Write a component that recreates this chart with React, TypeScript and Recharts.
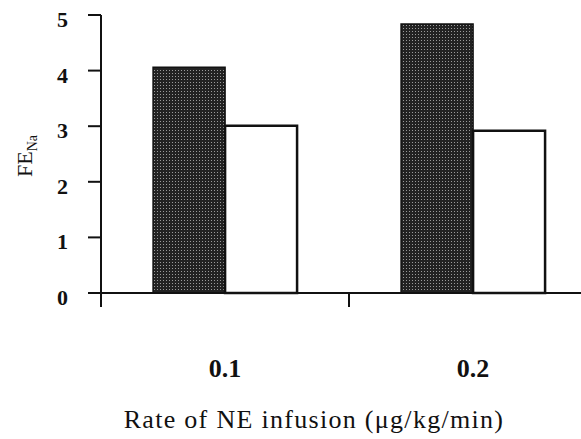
import { BarChart, Bar, XAxis, YAxis, Label } from "recharts";

const rates = ["0.1", "0.2"];
const darkValues = [4.06, 4.84];
const whiteValues = [3.01, 2.92];
const yTicks = [0, 1, 2, 3, 4, 5];

const data = rates.map((r, i) => ({ rate: r, dark: darkValues[i], white: whiteValues[i] }));

const SERIF = "'Liberation Serif', 'Times New Roman', serif";

function XTick(props: any) {
  const { x, y, payload } = props;
  const left = x - payload.offset;
  return (
    <g>
      <line x1={left} y1={y} x2={left} y2={y + 14} stroke="#111" strokeWidth={2} />
      <text x={x} y={y + 84} textAnchor="middle" fontFamily={SERIF} fontWeight="bold" fontSize={26} fill="#111">
        {payload.value}
      </text>
    </g>
  );
}

function YTick(props: any) {
  const { x, y, payload } = props;
  return (
    <text x={x} y={y + 12} textAnchor="end" fontFamily={SERIF} fontWeight="bold" fontSize={22} fill="#111">
      {payload.value}
    </text>
  );
}

export default function App() {
  return (
    <div style={{ position: "absolute", left: 0, top: 0, width: 581, height: 439, overflow: "hidden", background: "#fff" }}>
      <BarChart
        width={600}
        height={439}
        data={data}
        margin={{ top: 15, right: 3, left: 0, bottom: 0 }}
        barCategoryGap="21%"
        barGap={0}
      >
        <defs>
          <pattern id="stipple" width="3" height="3" patternUnits="userSpaceOnUse">
            <rect width="3" height="3" fill="#222" />
            <rect x="1" y="1" width="1" height="1" fill="#9a9a9a" />
          </pattern>
        </defs>
        <XAxis
          dataKey="rate"
          height={146}
          tickSize={0}
          tickMargin={0}
          tickLine={false}
          axisLine={{ stroke: "#111", strokeWidth: 2 }}
          tick={<XTick />}
        >
          <Label
            content={(p: any) => {
              const vb = p.viewBox;
              return (
                <text
                  x={vb.x + vb.width / 2 - 35}
                  y={vb.y + 135}
                  textAnchor="middle"
                  fontFamily={SERIF}
                  fontSize={26}
                  letterSpacing={1.3}
                  fill="#111"
                >
                  Rate of NE infusion (μg/kg/min)
                </text>
              );
            }}
          />
        </XAxis>
        <YAxis
          width={101}
          domain={[0, 5]}
          ticks={yTicks}
          interval={0}
          tickSize={13}
          tickMargin={20}
          tickLine={{ stroke: "#111", strokeWidth: 2 }}
          axisLine={{ stroke: "#111", strokeWidth: 2 }}
          tick={<YTick />}
        >
          <Label
            content={() => (
              <text x={32} y={156} transform="rotate(-90, 32, 156)" textAnchor="middle" fontFamily={SERIF} fontSize={22} fill="#111">
                FE
                <tspan fontSize={14} dy={5}>Na</tspan>
              </text>
            )}
          />
        </YAxis>
        <Bar dataKey="dark" fill="url(#stipple)" stroke="#111" strokeWidth={1.5} isAnimationActive={false} />
        <Bar dataKey="white" fill="#fff" stroke="#111" strokeWidth={2.5} isAnimationActive={false} />
      </BarChart>
    </div>
  );
}
